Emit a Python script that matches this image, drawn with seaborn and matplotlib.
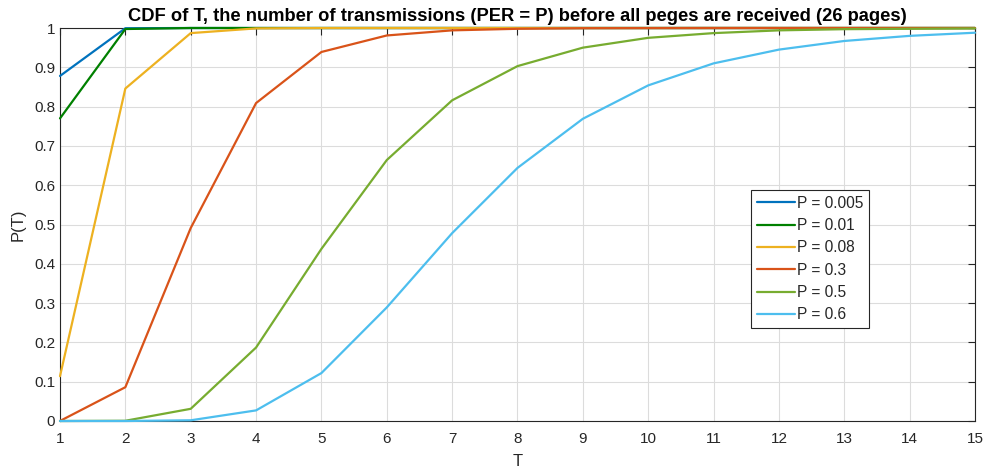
import matplotlib
matplotlib.use("Agg")
import matplotlib.pyplot as plt
import seaborn as sns
import pandas as pd

T = list(range(1, 16))
labels = ["P = 0.005", "P = 0.01", "P = 0.08", "P = 0.3", "P = 0.5", "P = 0.6"]
p005 = [0.878, 0.9994, 1.0, 1.0, 1.0, 1.0, 1.0, 1.0, 1.0, 1.0, 1.0, 1.0, 1.0, 1.0, 1.0]
p01 = [0.770, 0.9974, 1.0, 1.0, 1.0, 1.0, 1.0, 1.0, 1.0, 1.0, 1.0, 1.0, 1.0, 1.0, 1.0]
p08 = [0.114, 0.846, 0.987, 0.999, 0.9999, 1.0, 1.0, 1.0, 1.0, 1.0, 1.0, 1.0, 1.0, 1.0, 1.0]
p3 = [0.0001, 0.086, 0.491, 0.809, 0.939, 0.981, 0.994, 0.998, 0.9995, 0.9998, 1.0, 1.0, 1.0, 1.0, 1.0]
p5 = [0.0, 0.0006, 0.031, 0.187, 0.438, 0.664, 0.816, 0.903, 0.950, 0.975, 0.987, 0.994, 0.997, 0.998, 0.999]
p6 = [0.0, 0.0, 0.0018, 0.027, 0.122, 0.289, 0.478, 0.644, 0.769, 0.854, 0.910, 0.945, 0.967, 0.980, 0.988]
series = [p005, p01, p08, p3, p5, p6]
colors = ["#0072BD", "#008000", "#EDB120", "#D95319", "#77AC30", "#4DBEEE"]

rows = []
for lab, vals in zip(labels, series):
    for t, v in zip(T, vals):
        rows.append({"T": t, "P(T)": v, "series": lab})
df = pd.DataFrame(rows)

sns.set_theme(style="white")
plt.rcParams["font.family"] = ["Liberation Sans", "DejaVu Sans"]

fig = plt.figure(figsize=(9.85, 4.72), dpi=100)
ax = fig.add_axes([60/985, 1-421/472, 915/985, 393/472])
sns.lineplot(data=df, x="T", y="P(T)", hue="series", hue_order=labels,
             palette=colors, linewidth=1.6, ax=ax)
for ln in ax.get_lines():
    ln.set_clip_on(False)
    ln.set_zorder(5)

ax.set_xlim(1, 15)
ax.set_ylim(0, 1)
ax.set_xticks(range(1, 16))
ax.set_yticks([i / 10 for i in range(11)])
ax.set_yticklabels(["0", "0.1", "0.2", "0.3", "0.4", "0.5", "0.6", "0.7", "0.8", "0.9", "1"])
ax.grid(True, color="#dcdcdc", linewidth=0.8)
ax.set_axisbelow(True)
for s in ax.spines.values():
    s.set_color("#262626")
    s.set_linewidth(0.8)
    s.set_zorder(3)
ax.tick_params(direction="in", length=5, width=0.8, colors="#262626",
               labelsize=11, top=True, right=True, labelcolor="#262626")
ax.tick_params(axis="x", pad=8)
ax.set_xlabel("T", fontsize=12, color="#262626", labelpad=6)
ax.set_ylabel("P(T)", fontsize=12, color="#262626", labelpad=6)
ax.set_title("CDF of T, the number of transmissions (PER = P) before all peges are received (26 pages)",
             fontsize=13.2, fontweight="bold", color="#000000", pad=5)

leg = ax.legend(loc="upper left", bbox_to_anchor=(0.755, 0.588),
                fontsize=11.2, frameon=True, fancybox=False, handlelength=2.45,
                handletextpad=0.12, borderpad=0.38, labelspacing=0.47, borderaxespad=0)
leg.get_frame().set_edgecolor("#262626")
leg.get_frame().set_linewidth(0.8)
leg.get_frame().set_alpha(1)
leg.set_zorder(10)

fig.savefig("out.png", dpi=100)
